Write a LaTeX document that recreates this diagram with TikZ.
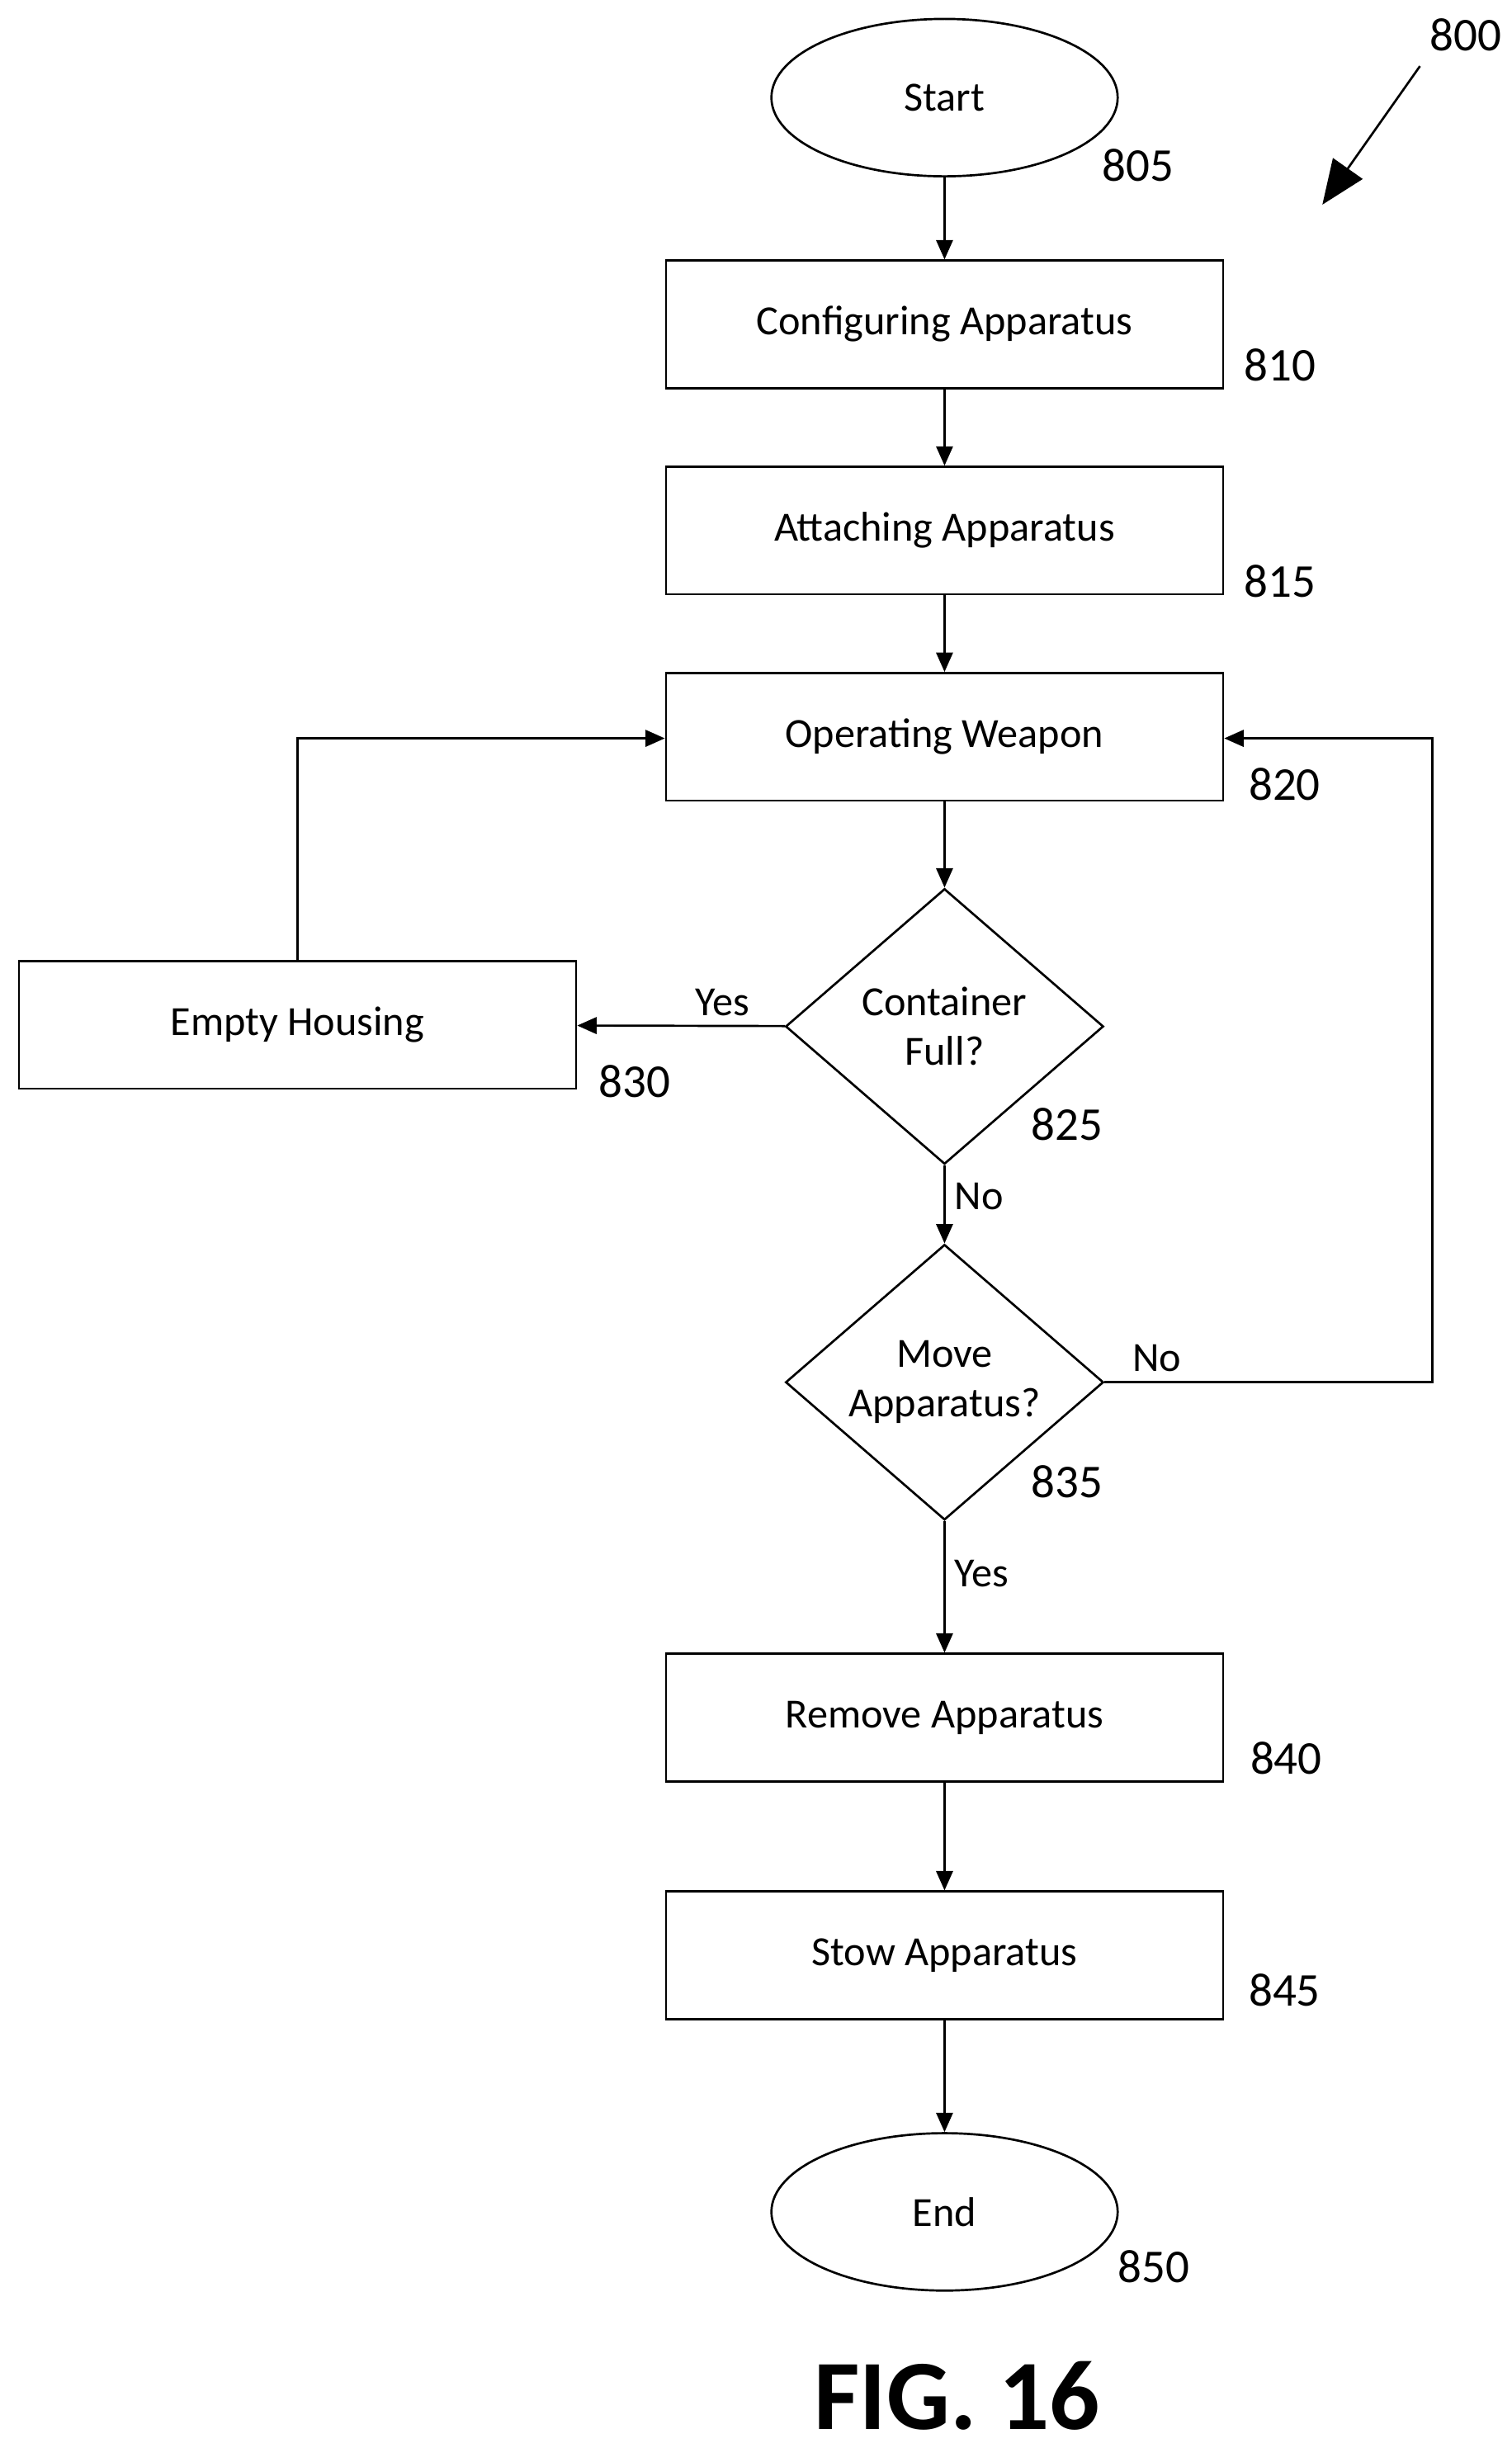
\documentclass[tikz,border=0pt]{standalone}
\usepackage{fontspec}
\setmainfont{Carlito}
\usetikzlibrary{shapes.geometric,arrows.meta}
\tikzset{
  stepbox/.style={draw,thick,minimum width=7.08cm,minimum height=1.62cm,font=\fontsize{15}{18}\selectfont},
  term/.style={draw,thick,ellipse,minimum width=4.4cm,minimum height=2cm,font=\fontsize{15}{18}\selectfont},
  test/.style={draw,thick,diamond,aspect=1.16,minimum width=4.04cm,minimum height=3.5cm,inner sep=0pt,align=center,font=\fontsize{15}{18}\selectfont},
  ref/.style={font=\fontsize{17}{20}\selectfont},
  flow/.style={thick,-{Triangle[length=7pt,width=6pt]}}
}
\begin{document}
\begin{tikzpicture}[x=0.02cm,y=-0.02cm]
  \useasboundingbox (0,0) rectangle (960,1555);

  \node[term] (s805) at (600,62) {Start};
  \node[stepbox] (s810) at (600,206) {Configuring Apparatus};
  \node[stepbox] (s815) at (600,337) {Attaching Apparatus};
  \node[stepbox] (s820) at (600,468) {Operating Weapon};
  \node[test] (s825) at (600,652) {Container\\Full?};
  \node[stepbox] (s830) at (189,651) {Empty Housing};
  \node[test] (s835) at (600,878) {Move\\Apparatus?};
  \node[stepbox] (s840) at (600,1091) {Remove Apparatus};
  \node[stepbox] (s845) at (600,1242) {Stow Apparatus};
  \node[term] (s850) at (600,1405) {End};

  % reference numerals
  \node[ref] (r805) at (723,105) {805};
  \node[ref] (r810) at (813,232) {810};
  \node[ref] (r815) at (813,369) {815};
  \node[ref] (r820) at (816,498) {820};
  \node[ref] (r825) at (678,714) {825};
  \node[ref] (r830) at (403,687) {830};
  \node[ref] (r835) at (678,941) {835};
  \node[ref] (r840) at (817,1117) {840};
  \node[ref] (r845) at (816,1264) {845};
  \node[ref] (r850) at (733,1440) {850};
  \node[ref] (r800) at (931,22) {800};
  \coordinate (p800a) at (902,42);
  \coordinate (p800b) at (840,130);
  \draw[thick,-{Triangle[length=16pt,width=13pt]}] (p800a) -- (p800b);

  \draw[flow] (s805) -- (s810);
  \draw[flow] (s810) -- (s815);
  \draw[flow] (s815) -- (s820);
  \draw[flow] (s820) -- (s825);
  \draw[flow] (s825) -- node[above,pos=0.3,font=\fontsize{15}{18}\selectfont]{Yes} (s830);
  \draw[flow] (s825) -- node[right,pos=0.4,font=\fontsize{15}{18}\selectfont]{No} (s835);
  \draw[flow] (s835) -- node[right,pos=0.4,font=\fontsize{15}{18}\selectfont]{Yes} (s840);
  \draw[flow] (s840) -- (s845);
  \draw[flow] (s845) -- (s850);
  \coordinate (c830) at (189,469);
  \coordinate (c835) at (910,878);
  \draw[flow] (s830.north) -- (c830) -- (s820.west|-c830);
  \draw[flow] (s835.east) -- node[above,pos=0.16,font=\fontsize{15}{18}\selectfont]{No} (c835) |- (s820.east|-c830);

  \node[font=\bfseries\fontsize{36}{42}\selectfont] (fig) at (608,1522) {FIG. 16};
\end{tikzpicture}
\end{document}
